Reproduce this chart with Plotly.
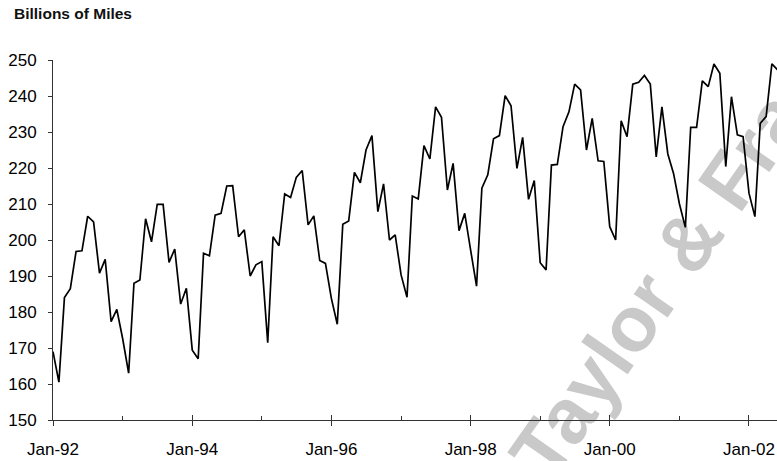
import pandas as pd
import plotly.graph_objects as go

# Monthly vehicle miles travelled, billions (Jan 1992 onward)
miles_1992 = [169.0, 160.5, 184.0, 186.5, 196.8, 197.0, 206.6, 205.0, 190.8, 194.6, 177.3, 180.7]
miles_1993 = [172.5, 163.0, 188.0, 188.9, 205.9, 199.5, 209.9, 209.9, 193.8, 197.5, 182.2, 186.6]
miles_1994 = [169.4, 167.0, 196.3, 195.6, 206.9, 207.4, 215.0, 215.1, 200.9, 202.8, 190.0, 193.1]
miles_1995 = [194.0, 171.5, 200.9, 198.4, 212.8, 211.8, 217.4, 219.3, 204.2, 206.7, 194.3, 193.5]
miles_1996 = [183.8, 176.6, 204.4, 205.3, 218.8, 215.9, 225.0, 229.0, 207.9, 215.6, 200.0, 201.4]
miles_1997 = [190.3, 184.1, 212.2, 211.4, 226.2, 222.5, 237.0, 234.1, 213.9, 221.3, 202.6, 207.4]
miles_1998 = [197.2, 187.2, 214.4, 218.1, 228.1, 229.0, 240.1, 237.3, 219.9, 228.5, 211.3, 216.5]
miles_1999 = [193.7, 191.7, 220.8, 221.0, 231.5, 235.6, 243.3, 241.7, 225.0, 233.8, 222.0, 221.8]
miles_2000 = [203.7, 200.0, 233.1, 228.7, 243.3, 243.8, 245.7, 243.3, 223.1, 237.0, 223.9, 218.5]
miles_2001 = [210.0, 203.5, 231.3, 231.3, 244.2, 242.6, 248.9, 246.3, 220.4, 239.8, 229.2, 228.7]
miles_2002 = [213.0, 206.5, 232.4, 234.3, 248.9, 247.2]

miles = (miles_1992 + miles_1993 + miles_1994 + miles_1995 + miles_1996 + miles_1997
         + miles_1998 + miles_1999 + miles_2000 + miles_2001 + miles_2002)
months = pd.date_range("1992-01-01", periods=len(miles), freq="MS")

major_tick_dates = ["1992-01-01", "1994-01-01", "1996-01-01", "1998-01-01", "2000-01-01", "2002-01-01"]
major_tick_labels = ["Jan-92", "Jan-94", "Jan-96", "Jan-98", "Jan-00", "Jan-02"]
minor_tick_dates = ["1993-01-01", "1995-01-01", "1997-01-01", "1999-01-01", "2001-01-01"]
y_ticks = [150, 160, 170, 180, 190, 200, 210, 220, 230, 240, 250]

x_range = ["1992-01-01", "2002-05-28"]
font_family = "Liberation Sans, Arial, sans-serif"

fig = go.Figure()
fig.add_trace(go.Scatter(
    x=months, y=miles, mode="lines",
    line=dict(color="#000000", width=1.7),
    showlegend=False, hoverinfo="skip",
))
# helper trace so the overlay axis (upper halves of the major ticks) is drawn
fig.add_trace(go.Scatter(
    x=[months[0]], y=[miles[0]], xaxis="x2", mode="markers",
    marker=dict(opacity=0), showlegend=False, hoverinfo="skip",
))

fig.update_layout(
    width=777, height=461,
    margin=dict(l=53, r=0, t=60, b=41),
    paper_bgcolor="white", plot_bgcolor="white",
    font=dict(family=font_family, color="#000000"),
    xaxis=dict(
        range=x_range, type="date",
        tickmode="array", tickvals=major_tick_dates, ticktext=major_tick_labels,
        ticks="outside", ticklen=5, tickcolor="#333333", tickwidth=1,
        tickfont=dict(size=17, family=font_family, color="#000000"),
        ticklabelstandoff=9,
        minor=dict(tickvals=minor_tick_dates, ticks="inside", ticklen=4,
                   tickcolor="#333333", tickwidth=1, showgrid=False),
        showline=True, linecolor="#333333", linewidth=1,
        showgrid=False, zeroline=False, fixedrange=True,
    ),
    xaxis2=dict(
        range=x_range, type="date", overlaying="x", anchor="y", side="bottom",
        tickmode="array", tickvals=major_tick_dates,
        ticks="inside", ticklen=5, tickcolor="#333333", tickwidth=1,
        showticklabels=False, showline=False, showgrid=False, zeroline=False,
    ),
    yaxis=dict(
        range=[150, 250], tickmode="array", tickvals=y_ticks,
        ticks="outside", ticklen=4, tickcolor="#333333", tickwidth=1,
        tickfont=dict(size=17, family=font_family, color="#000000"),
        ticklabelstandoff=8,
        showline=True, linecolor="#333333", linewidth=1,
        showgrid=False, zeroline=False, fixedrange=True,
    ),
    annotations=[dict(
        text="Billions of Miles", xref="paper", yref="paper",
        x=-0.0566, y=1.128, xanchor="left", yanchor="middle",
        showarrow=False,
        font=dict(size=15.5, family=font_family, color="#111111", weight="bold"),
    )],
    shapes=[dict(
        type="rect", xref="paper", yref="paper",
        x0=0.884, x1=0.894, y0=0.56, y1=0.57,
        line=dict(width=0), fillcolor="rgba(0,0,0,0)", layer="below",
        label=dict(text="Taylor & Francis", textangle=-55, textposition="middle center",
                   font=dict(size=78, family=font_family, color="#c9c9c9", weight="bold")),
    )],
)

fig.write_html("out.html")
